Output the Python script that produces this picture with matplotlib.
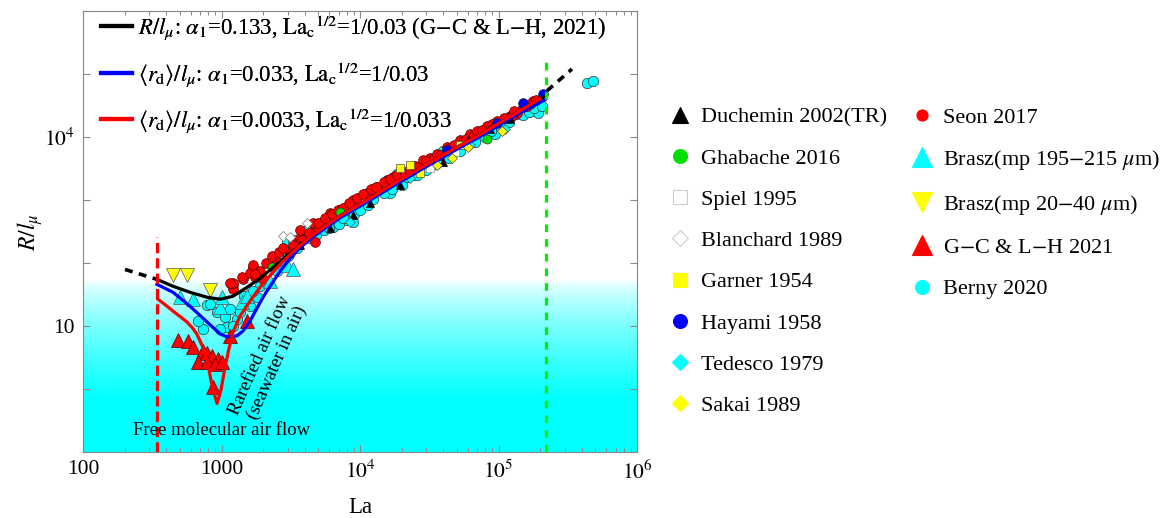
import numpy as np
import matplotlib.pyplot as plt
from matplotlib.lines import Line2D
from matplotlib.ticker import LogLocator, NullLocator

plt.rcParams['font.family'] = ['Liberation Serif', 'DejaVu Serif']
plt.rcParams['mathtext.fontset'] = 'stix'

# model curves (La, R/l_mu)
la_black = [342, 447, 592, 786, 975, 1211, 1528, 1897, 2355, 2969, 3687, 4580, 7173, 11240,
            17290, 27120, 46940, 73500, 102500, 143000, 199500, 220500]
y_black = [55, 42.7, 34.3, 28.6, 26.6, 29.7, 41.1, 57, 85, 131, 189, 281, 560, 1000,
           1786, 3190, 6350, 10940, 16900, 26100, 40400, 45050]
la_black_dash_lo = [201, 342]
y_black_dash_lo = [79, 55]
la_black_dash_hi = [223900, 339400]
y_black_dash_hi = [54000, 120000]

la_blue = [342, 447, 592, 786, 975, 1096, 1294, 1429, 1607, 1804, 1994, 2240, 2643, 3124, 3687,
           4580, 7173, 11240, 17290, 27120, 46940, 73500, 102500, 143000, 216800]
y_blue = [45.8, 34.3, 20.6, 11.6, 7.5, 6.7, 7.0, 8.3, 12.0, 19.2, 28.6, 42.7, 73.5, 118, 175,
          261, 521, 930, 1660, 2965, 5913, 10190, 15740, 24330, 38990]

la_red = [348, 400, 447, 505, 563, 620, 665, 735, 800, 860, 929, 990, 1060, 1130, 1211, 1361,
          1607, 1897, 2240, 2643, 3124, 3687, 4580, 7173, 11240, 17290, 27120, 46940, 73500,
          102500, 143000, 199500]
y_red = [26.6, 21.0, 17.2, 14.0, 11.6, 9.2, 7.4, 4.6, 2.4, 1.05, 0.59, 0.95, 2.2, 4.3, 8.0, 14.4,
         24.8, 41.1, 63.5, 94.6, 136, 189, 281, 560, 1000, 1786, 3190, 6350, 10940, 16900,
         26100, 40400]

# experimental data
duchemin_la = [3687, 6067, 8892, 11800, 19440, 39700, 60260, 86900, 121000]
duchemin_y = [195, 362, 580, 897, 1722, 3965, 8813, 13600, 19540]

ghabache_la = [2317, 7173, 82580]
ghabache_y = [85, 647, 9460]

spiel_la = [32000, 48530]
spiel_y = [3190, 5700]

blanchard_la = [2780, 3124, 4143]
blanchard_y = [271, 261, 434]

garner_la = [19440, 22960, 27120, 52700]
garner_y = [3190, 3556, 2661, 7345]

hayami_la = [42460, 97540, 150400, 209400]
hayami_y = [6130, 16900, 34900, 48400]

tedesco_la = [8472, 22960, 62250, 111400]
tedesco_y = [451, 2219, 7345, 13600]

sakai_la = [35970, 46120, 60260, 105900]
sakai_y = [3556, 4586, 6834, 12650]

seon_la = [1211, 1211, 1211, 1429, 1687, 1746, 1746, 1994, 2433, 2515, 3124, 3396, 3687, 4143,
           4732, 4732, 5321, 5585, 3687, 4580, 6067, 7173, 8892, 11240, 13270, 15670, 17290,
           23700, 28500, 32000, 42460, 52700, 62250, 82580, 97540, 121000, 136000, 160700, 177600,
           5000, 5600, 6300, 6900, 7600, 8300, 9500, 10500, 12000, 13000, 15000, 16500, 18500,
           21000, 22500, 25000, 26000, 30000, 34000, 36000, 38000, 45000, 48000, 55000, 58000,
           66000, 70000, 76000, 90000, 110000, 125000, 130000, 150000, 170000, 185000,
           1400, 1600, 1700, 1900, 2100, 2300, 2600, 2800, 3300, 3800, 4300, 1150, 1750]
seon_y = [44, 38, 48, 55, 85, 71, 59, 55, 114, 102, 146, 218, 252, 281,
          337, 218, 434, 484, 337, 434, 624, 696, 1000, 1288, 1602, 2065, 2301,
          2965, 4262, 4586, 6834, 8813, 11350, 15170, 18190, 21820, 24330, 31340, 37580,
          430, 520, 610, 700, 760, 880, 1080, 1250, 1480, 1580, 1900, 2150, 2500,
          2650, 3000, 3500, 3300, 4100, 4700, 5300, 5100, 6600, 7500, 8600, 9300,
          10600, 12300, 13100, 16000, 20300, 21500, 25800, 29500, 33000, 39000,
          60, 70, 92, 75, 100, 130, 150, 170, 190, 230, 300, 48, 66]

brasz195_la = [501, 623, 975, 1009, 1406, 2969, 3283, 2240, 1528]
brasz195_y = [28.6, 26.6, 19.9, 28.6, 23.9, 94.6, 79, 51, 30]

brasz20_la = [447, 563, 826]
brasz20_y = [63.5, 63.5, 36.9]

gc_la = [485, 573, 623, 735, 786, 854, 944, 677, 786, 898, 1009, 868, 1151, 1528]
gc_y = [6.0, 5.8, 4.7, 4.0, 3.76, 3.37, 3.02, 2.71, 2.71, 2.52, 2.71, 1.09, 7.0, 12.0]

berny_la = [786, 929, 1060, 1294, 1361, 1607, 1528, 1096, 975, 1211, 1804, 1897, 735, 677, 826,
            1151, 2969, 3283, 4143, 6383, 8048, 8892, 13930, 16480, 18500, 24150, 39700, 50130,
            94340, 136000, 160700, 174600, 192900, 192900, 435500, 481000,
            4300, 4800, 5500, 6000, 7000, 7500, 9000, 10000, 11500, 12500, 15000, 17000, 20000,
            22000, 26000, 30000, 33000, 36000, 44000, 53000, 60000, 68000, 80000, 88000,
            105000, 120000, 150000, 165000, 180000, 205000,
            2100, 2500, 2700, 3000, 3500, 1450, 1700]
berny_y = [21.4, 16.6, 13.9, 12.9, 16.6, 20.6, 28.6, 9.6, 9.0, 10, 28.6, 43, 9.0, 12.0, 22.2,
           18.5, 218, 234, 337, 376, 484, 451, 1480, 1300, 2600, 2500, 6000, 6000,
           11000, 23000, 28100, 26100, 24330, 34900, 72100, 77600,
           250, 280, 330, 360, 420, 510, 600, 700, 830, 1050, 1300, 1500, 1750,
           2300, 2500, 3000, 3600, 3900, 4700, 6000, 7800, 8300, 10000, 12500,
           14500, 17000, 22000, 25000, 29000, 30500,
           50, 75, 95, 130, 170, 30, 36]

# (label, la, y, marker, face, edge, size in plot, size in legend)
series_col1 = [
    ('Duchemin 2002(TR)', duchemin_la, duchemin_y, '^', 'black', 'black', 6, 11),
    ('Ghabache 2016', ghabache_la, ghabache_y, 'o', '#00e000', '#333333', 6.5, 10),
    ('Spiel 1995', spiel_la, spiel_y, 's', 'white', '#999999', 6, 10),
    ('Blanchard 1989', blanchard_la, blanchard_y, 'D', 'white', '#777777', 5.5, 8),
    ('Garner 1954', garner_la, garner_y, 's', '#ffff00', '#555555', 6, 10),
    ('Hayami 1958', hayami_la, hayami_y, 'o', '#0000ff', '#222222', 7, 10),
    ('Tedesco 1979', tedesco_la, tedesco_y, 'D', '#00ffff', '#555555', 5.5, 8),
    ('Sakai 1989', sakai_la, sakai_y, 'D', '#ffff00', '#555555', 5.5, 8),
]
series_col2 = [
    ('Seon 2017', seon_la, seon_y, 'o', '#ff0000', '#550000', 7, 8),
    (r'Brasz(mp 195$-$215 $\mu$m)', brasz195_la, brasz195_y, '^', '#00ffff', '#555555', 9.5, 14),
    (r'Brasz(mp 20$-$40 $\mu$m)', brasz20_la, brasz20_y, 'v', '#ffff00', '#555555', 9.5, 14),
    ('G$-$C & L$-$H 2021', gc_la, gc_y, '^', '#ff0000', '#550000', 9.5, 14),
    ('Berny 2020', berny_la, berny_y, 'o', '#00ffff', '#333333', 7.5, 10),
]

fig = plt.figure(figsize=(11.67, 5.18), dpi=100)
ax = fig.add_axes([83 / 1167, 66 / 518, 554 / 1167, 441 / 518])
ax.set_xscale('log')
ax.set_yscale('log')
ax.set_xlim(100, 1e6)
ax.set_ylim(0.1, 1e6)

# white-to-cyan background
f = np.linspace(0, 1, 300)
t = np.clip((0.39 - f) / (0.39 - 0.12), 0, 1) ** 0.7
img = np.zeros((300, 1, 3))
img[:, 0, 0] = 1 - t
img[:, 0, 1] = 1
img[:, 0, 2] = 1
ax.imshow(img, extent=(0, 1, 0, 1), transform=ax.transAxes, aspect='auto',
          origin='lower', zorder=0)
ax.set_xlim(100, 1e6)
ax.set_ylim(0.1, 1e6)

draw_order = [series_col2[4], series_col2[0]] + series_col1 + series_col2[1:4]
for lab, xs, ys, m, fc, ec, ms, _ in draw_order:
    ax.plot(xs, ys, linestyle='none', marker=m, markerfacecolor=fc, markeredgecolor=ec,
            markeredgewidth=0.5, markersize=ms, zorder=3)

ax.plot(la_black_dash_lo, y_black_dash_lo, color='black', lw=2.6, ls=(0, (2.2, 1.8)), zorder=4)
ax.plot(la_black_dash_hi, y_black_dash_hi, color='black', lw=2.6, ls=(0, (2.2, 1.8)), zorder=4)
l1, = ax.plot(la_black, y_black, color='black', lw=2.3, zorder=4)
l2, = ax.plot(la_blue, y_blue, color='#0000ff', lw=2.3, zorder=4)
l3, = ax.plot(la_red, y_red, color='#ff0000', lw=2.3, zorder=4)

ax.plot([342, 342], [0.1, 261], color='#ff0000', lw=2.3, ls=(0, (3.2, 1.6)), zorder=5)
ax.plot([220500, 220500], [0.1, 172000], color='#00ee00', lw=2.3, ls=(0, (2.4, 2.2)), zorder=5)

ax.text(1000, 0.22, 'Free molecular air flow', fontsize=13.5, ha='center', va='center', zorder=6)
ax.text(2200, 3.0, 'Rarefied air flow\n(seawater in air)', fontsize=13.5, ha='center',
        va='center', rotation=66, rotation_mode='anchor', multialignment='center',
        linespacing=1.1, zorder=6)

# axes styling
for s in ax.spines.values():
    s.set_color('#888888')
ax.set_xticks([100, 1000, 1e4, 1e5, 1e6])
ax.set_xticklabels(['100', '1000', '$10^4$', '$10^5$', '$10^6$'])
ax.xaxis.set_minor_locator(LogLocator(base=10, subs=np.arange(2, 10)))
ax.set_yticks([0.1, 1, 10, 100, 1e3, 1e4, 1e5, 1e6])
ax.set_yticklabels(['', '', '10', '', '', '$10^4$', '', ''])
ax.yaxis.set_minor_locator(NullLocator())
ax.tick_params(which='both', direction='in', top=True, right=True, color='#888888',
               labelsize=15.5)
ax.tick_params(which='major', length=5, width=0.8, pad=6)
ax.tick_params(which='minor', length=3, width=0.7)
ax.set_xlabel('La', fontsize=16.5, labelpad=10)
fig.text(30 / 1167, 1 - 232 / 518, r'$R/l_\mu$', fontsize=17, rotation=90,
         ha='center', va='center')

# model legend
model_labels = [
    r'$R/l_\mu$: $\alpha_1$=0.133, $\mathrm{La_c}^{1/2}$=1/0.03 (G$-$C & L$-$H, 2021)',
    r'$\langle r_\mathrm{d}\rangle/l_\mu$: $\alpha_1$=0.033, $\mathrm{La_c}^{1/2}$=1/0.03',
    r'$\langle r_\mathrm{d}\rangle/l_\mu$: $\alpha_1$=0.0033, $\mathrm{La_c}^{1/2}$=1/0.033',
]
leg0 = ax.legend([l1, l2, l3], model_labels, loc='upper left', frameon=False, fontsize=16.3,
                 bbox_to_anchor=(101 / 1167, 1 - 13 / 518), bbox_transform=fig.transFigure,
                 borderpad=0, borderaxespad=0, handlelength=1.35, handletextpad=0.28,
                 labelspacing=0.8)
for h in leg0.get_lines():
    h.set_linewidth(3)
ax.add_artist(leg0)


def proxies(series):
    return [Line2D([], [], linestyle='none', marker=m, markerfacecolor=fc,
                   markeredgecolor=(fc if fc != 'white' else '#cccccc'),
                   markeredgewidth=0.8, markersize=lms)
            for lab, xs, ys, m, fc, ec, ms, lms in series]


for series, xl in [(series_col1, 669), (series_col2, 911)]:
    fig.legend(proxies(series), [s[0] for s in series], loc='upper left', frameon=False,
               fontsize=16, bbox_to_anchor=(xl / 1167, 1 - 107 / 518),
               bbox_transform=fig.transFigure, borderpad=0, borderaxespad=0,
               handlelength=0.95, handletextpad=0.5, labelspacing=0.93)

fig.savefig('out.png', dpi=100)
